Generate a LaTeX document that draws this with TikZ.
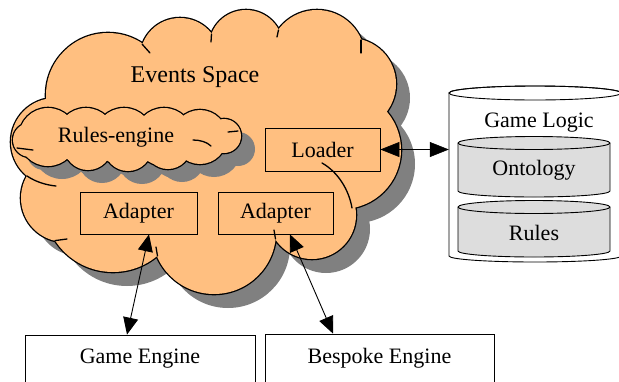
\documentclass[tikz,border=0pt]{standalone}
\usepackage{fontspec}
\setmainfont{Liberation Serif}
\usetikzlibrary{arrows.meta,calc}

\definecolor{cloudorange}{RGB}{255,191,128}
\definecolor{dropshadow}{RGB}{128,128,128}
\definecolor{storegray}{RGB}{221,221,221}

% Events Space cloud: bump circles plus a core polygon
\newcommand\eventscircles{%
  (108,95) circle[radius=62] (180,58) circle[radius=40]
  (246,47) circle[radius=37] (317,58) circle[radius=48]
  (350,84) circle[radius=46] (342,150) circle[radius=59]
  (312,215) circle[radius=44] (214,232) circle[radius=62]
  (113,203) circle[radius=69] (65,198) circle[radius=44]
  (55,142) circle[radius=44]}
\newcommand\eventscore{%
  (108,95) -- (180,58) -- (246,47) -- (317,58) -- (350,84) -- (342,150)
  -- (312,215) -- (214,232) -- (113,203) -- (65,198) -- (55,142) -- cycle}

% Rules-engine cloud: two rows of bumps around a flat ellipse
\newcommand\rulescircles{%
  (48,137) circle[radius=29] (86,137) circle[radius=29]
  (124,137) circle[radius=29] (164,137) circle[radius=29]
  (200,137) circle[radius=27] (224,136) circle[radius=17]
  (30,140) circle[radius=17]
  (50,144) circle[radius=21] (88,146) circle[radius=24]
  (128,147) circle[radius=24] (168,146) circle[radius=23]
  (204,143) circle[radius=16]}
\newcommand\rulescore{(128,140) ellipse[x radius=95, y radius=12]}

\begin{document}
\begin{tikzpicture}[x=1pt,y=-1pt,
  lbl/.style={font=\fontsize{22}{26}\selectfont, inner sep=0pt},
  box/.style={draw, line width=0.8pt, inner sep=0pt,
              font=\fontsize{22}{26}\selectfont},
  cloudline/.style={line width=2.6pt, draw=black},
  tick/.style={line width=1.3pt, line cap=round},
  bighead/.style={Triangle[length=17pt,width=15pt]},
  link/.style={line width=0.9pt, {Triangle[length=17pt,width=15pt]}-{Triangle[length=17pt,width=15pt]}},
  thinlink/.style={line width=0.6pt, {Triangle[length=19pt,width=15pt]}-{Triangle[length=19pt,width=15pt]}},
]
\useasboundingbox (0,0) rectangle (619,381);

% ---- Events Space cloud ----
\fill[dropshadow, shift={(14,14)}] \eventscircles \eventscore;
\draw[cloudline] \eventscircles;
\fill[cloudorange] \eventscircles \eventscore;
% inner strokes of the cloud
\draw[tick] (142,44) -- (150,53);
\draw[tick] (211.5,34) -- (211,42);
\draw[tick] (278.5,30) -- (277,37);
\draw[tick] (361,40) -- (361,53);
\draw[tick] (275.5,239) -- (274,230);
\draw[tick] (157.5,256) -- (156,247);
\draw[tick] (55,240.6) -- (67,239);
\draw[tick] (322,163) .. controls (338,172) and (349,190) .. (352,208);
\draw[tick] (27,176) .. controls (36,182) and (46,185) .. (56,186);

% ---- Rules-engine cloud ----
\fill[dropshadow, shift={(14,13)}] \rulescircles \rulescore;
\draw[cloudline] \rulescircles;
\fill[cloudorange] \rulescircles \rulescore;
\draw[tick] (193,140) .. controls (200,140) and (207,142) .. (211,146);
\draw[tick] (17,148) -- (33,150);
\draw[tick] (238,131) -- (228,132);

% ---- labels and boxes inside the cloud ----
\node[lbl, font=\fontsize{24}{28}\selectfont] (events) at (195,77) {Events Space};
\node[lbl] (rules) at (116,137) {Rules-engine};
\node[box, minimum width=115, minimum height=43] (loader) at (322.5,149.5) {Loader};
\node[box, minimum width=117, minimum height=42] (ad1) at (138.5,213) {Adapter};
\node[box, minimum width=115, minimum height=42] (ad2) at (275.5,213) {Adapter};

% ---- engines ----
\node[box, minimum width=230, minimum height=48] (game) at (140,359) {Game Engine};
\node[box, minimum width=229, minimum height=49] (bespoke) at (379.5,358.5) {Bespoke Engine};

% ---- Game Logic store ----
\node[minimum width=172, minimum height=176, inner sep=0pt] (store) at (535,174) {};
\filldraw[fill=white, line width=0.9pt]
  (449,93) -- (449,256) arc[start angle=180, end angle=0, x radius=86, y radius=6]
  -- (621,93) arc[start angle=0, end angle=-180, x radius=86, y radius=7] -- cycle;
\draw[line width=0.9pt] (535,93) ellipse[x radius=86, y radius=7];
\node[lbl] (logic) at (539,123) {Game Logic};

\filldraw[fill=storegray, line width=0.9pt]
  (458,143) -- (458,191) arc[start angle=180, end angle=0, x radius=76, y radius=6]
  -- (610,143) arc[start angle=0, end angle=-180, x radius=76, y radius=6.5] -- cycle;
\draw[line width=0.9pt] (610,143) arc[start angle=0, end angle=180, x radius=76, y radius=6.5];
\node[lbl] (onto) at (534,170) {Ontology};

\filldraw[fill=storegray, line width=0.9pt]
  (458,207) -- (458,251) arc[start angle=180, end angle=0, x radius=76, y radius=6]
  -- (610,207) arc[start angle=0, end angle=-180, x radius=76, y radius=6.5] -- cycle;
\draw[line width=0.9pt] (610,207) arc[start angle=0, end angle=180, x radius=76, y radius=6.5];
\node[lbl] (rulesdb) at (534,233) {Rules};

% ---- connectors ----
\draw[thinlink] (loader.east) -- (loader.east -| store.west);
\draw[link] ($(ad1.south)+(10.5,0)$) -- ($(game.north)+(-13,0)$);
\draw[link] ($(ad2.south)+(14.5,0)$) -- ($(bespoke.north)+(-46.5,0)$);
\end{tikzpicture}
\end{document}
